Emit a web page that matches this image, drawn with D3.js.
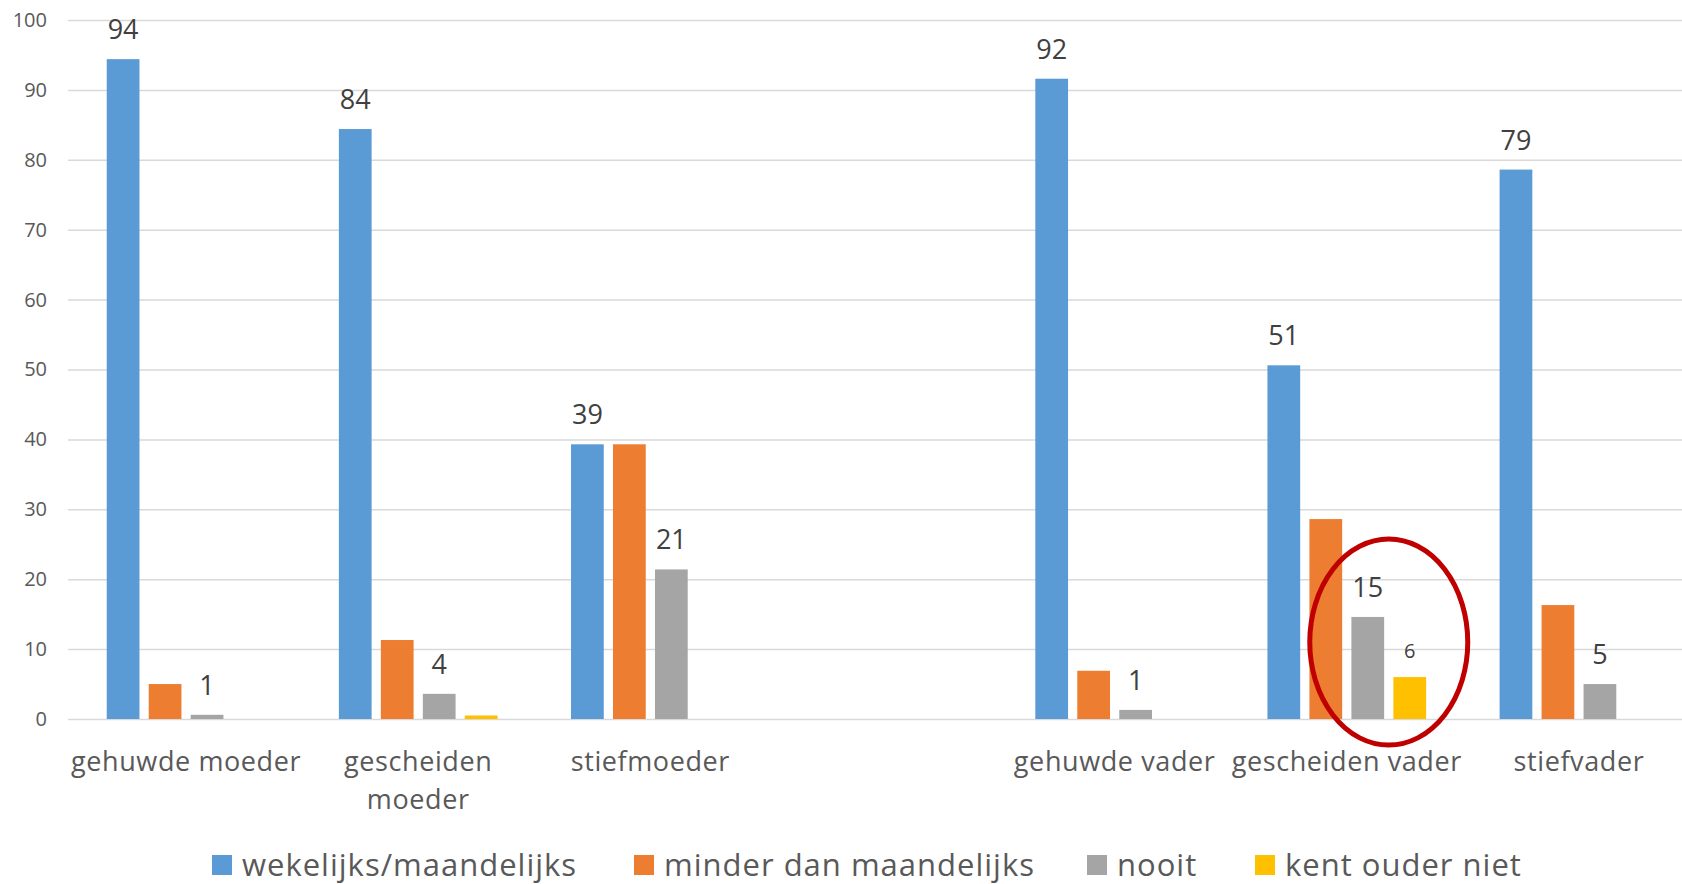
<!DOCTYPE html>
<html>
<head>
<meta charset="utf-8">
<script src="https://cdn.jsdelivr.net/npm/d3@7"></script>
<style>
  body { margin: 0; background: #fff; }
  svg { display: block; font-family: "Open Sans", sans-serif; }
</style>
</head>
<body>
<div id="chart"></div>
<script>
// categories (one empty slot between the mothers and the fathers)
const categories = ['gehuwde moeder', 'gescheiden moeder', 'stiefmoeder', ' ', 'gehuwde vader', 'gescheiden vader', 'stiefvader'];
const categoryLines = [['gehuwde moeder'], ['gescheiden', 'moeder'], ['stiefmoeder'], [], ['gehuwde vader'], ['gescheiden vader'], ['stiefvader']];

const seriesNames = ['wekelijks/maandelijks', 'minder dan maandelijks', 'nooit', 'kent ouder niet'];
const seriesColors = ['#5B9BD5', '#ED7D31', '#A5A5A5', '#FFC000'];

const wekelijks = [94.4, 84.4, 39.3, null, 91.6, 50.6, 78.6];
const minderDanMaandelijks = [5.0, 11.3, 39.3, null, 6.9, 28.6, 16.3];
const nooit = [0.6, 3.6, 21.4, null, 1.3, 14.6, 5.0];
const kentOuderNiet = [0, 0.5, 0, null, 0, 6.0, 0];

// which bars get a value label (1 = big label, 2 = small label)
const showWekelijks = [1, 1, 1, 0, 1, 1, 1];
const showMinder = [0, 0, 0, 0, 0, 0, 0];
const showNooit = [1, 1, 1, 0, 1, 1, 1];
const showKent = [0, 0, 0, 0, 0, 2, 0];

const yTicks = [0, 10, 20, 30, 40, 50, 60, 70, 80, 90, 100];

const seriesValues = [wekelijks, minderDanMaandelijks, nooit, kentOuderNiet];
const seriesShow = [showWekelijks, showMinder, showNooit, showKent];

const width = 1682;
const height = 884;

const svg = d3.select('#chart')
    .append('svg')
    .attr('width', width)
    .attr('height', height);

const x0 = d3.scaleBand()
    .domain(categories)
    .range([70, 1695]);

const x1 = d3.scaleBand()
    .domain(seriesNames)
    .range([0, x0.bandwidth()])
    .paddingInner(0.22)
    .paddingOuter(0.875);

const y = d3.scaleLinear()
    .domain([0, 100])
    .range([719, 20]);

// grid + y labels
const yAxis = d3.axisLeft(y)
    .tickValues(yTicks)
    .tickSizeInner(-(width - 68))
    .tickSizeOuter(0)
    .tickPadding(21);

const gy = svg.append('g')
    .attr('transform', 'translate(68,0)')
    .call(yAxis);
gy.select('.domain').remove();
gy.selectAll('.tick line').attr('stroke', '#d9d9d9').attr('stroke-width', 1.5);
gy.selectAll('.tick text')
    .attr('fill', '#595959')
    .style('font-size', '20px')
    .style('font-family', '"Open Sans", sans-serif');

// bars
const bars = [];
categories.forEach((c, i) => {
    seriesNames.forEach((s, j) => {
        const v = seriesValues[j][i];
        if (v === null) return;
        bars.push({ cat: c, series: s, value: v, color: seriesColors[j], show: seriesShow[j][i] });
    });
});

svg.append('g')
    .selectAll('rect')
    .data(bars)
    .enter()
    .append('rect')
    .attr('x', (d) => x0(d.cat) + x1(d.series))
    .attr('y', (d) => y(d.value))
    .attr('width', x1.bandwidth())
    .attr('height', (d) => y(0) - y(d.value))
    .attr('fill', (d) => d.color);

// value labels
svg.append('g')
    .selectAll('text')
    .data(bars.filter((d) => d.show > 0))
    .enter()
    .append('text')
    .attr('x', (d) => x0(d.cat) + x1(d.series) + x1.bandwidth() / 2)
    .attr('y', (d) => y(d.value) - (d.show === 2 ? 19 : 20))
    .attr('text-anchor', 'middle')
    .attr('fill', '#404040')
    .style('font-size', (d) => d.show === 2 ? '20px' : '27px')
    .text((d) => Math.round(d.value));

// category labels
const catG = svg.append('g');
categories.forEach((c, i) => {
    const t = catG.append('text')
        .attr('x', x0(c) + x0.bandwidth() / 2)
        .attr('y', 771)
        .attr('text-anchor', 'middle')
        .attr('fill', '#595959')
        .style('font-size', '27px')
        .style('letter-spacing', '0.6px');
    categoryLines[i].forEach((line, k) => {
        t.append('tspan')
            .attr('x', x0(c) + x0.bandwidth() / 2)
            .attr('dy', k === 0 ? 0 : 38)
            .text(line);
    });
});

// annotation ellipse around nooit / kent ouder niet of gescheiden vader
const ex = x0('gescheiden vader') + (x1('nooit') + x1('kent ouder niet') + x1.bandwidth()) / 2;
svg.append('ellipse')
    .attr('cx', ex)
    .attr('cy', y(11))
    .attr('rx', 79)
    .attr('ry', 103)
    .attr('fill', 'none')
    .attr('stroke', '#C00000')
    .attr('stroke-width', 5);

// legend
const legendX = [212, 634, 1087, 1255];
const legend = svg.append('g');
seriesNames.forEach((s, j) => {
    legend.append('rect')
        .attr('x', legendX[j])
        .attr('y', 855)
        .attr('width', 20)
        .attr('height', 20)
        .attr('fill', seriesColors[j]);
    legend.append('text')
        .attr('x', legendX[j] + 30)
        .attr('y', 876)
        .attr('fill', '#595959')
        .style('font-size', '31px')
        .style('letter-spacing', '1px')
        .text(s);
});
</script>
</body>
</html>
